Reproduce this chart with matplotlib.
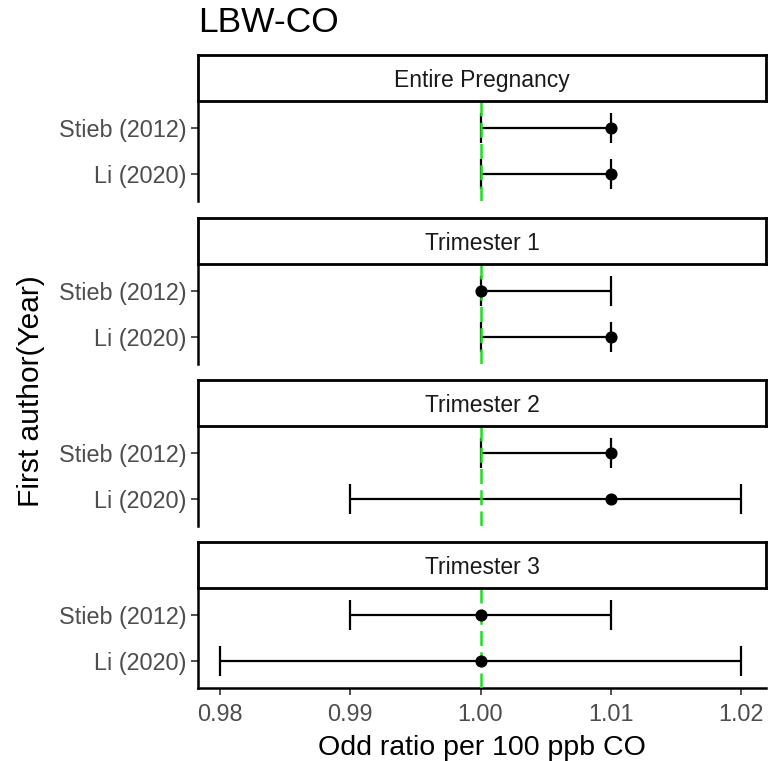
import numpy as np
import matplotlib.pyplot as plt

plt.rcParams['font.family'] = ['Liberation Sans', 'DejaVu Sans']

periods = ['Entire Pregnancy', 'Trimester 1', 'Trimester 2', 'Trimester 3']
studies = ['Stieb (2012)', 'Li (2020)']
# odds ratio, lower CI, upper CI per period, rows follow `studies`
or_est = [[1.01, 1.01], [1.00, 1.01], [1.01, 1.01], [1.00, 1.00]]
ci_low = [[1.00, 1.00], [1.00, 1.00], [1.00, 0.99], [0.99, 0.98]]
ci_high = [[1.01, 1.01], [1.01, 1.01], [1.01, 1.02], [1.01, 1.02]]
xticks = [0.98, 0.99, 1.00, 1.01, 1.02]

W, H = 770, 761
fig = plt.figure(figsize=(W / 100, H / 100), dpi=100)

left, right = 198, 766
strip_tops = [55, 218, 380, 542]
strip_h = 46
panel_h = 100
grey = '#4D4D4D'

for i, period in enumerate(periods):
    st = strip_tops[i]
    ptop = st + strip_h
    ax = fig.add_axes([left / W, 1 - (ptop + panel_h) / H, (right - left) / W, panel_h / H])
    ax.patch.set_alpha(0)
    ypos = np.array([2, 1])
    est = np.array(or_est[i])
    lo = np.array(ci_low[i])
    hi = np.array(ci_high[i])
    ax.errorbar(est, ypos, xerr=[est - lo, hi - est], fmt='none', ecolor='black',
                elinewidth=1.6, capsize=11, capthick=1.6, zorder=2)
    ax.axvline(1.0, color='#22DD22', linestyle=(0, (6, 2.5)), linewidth=1.8, zorder=3)
    ax.scatter(est, ypos, s=60, color='black', zorder=4)

    ax.set_xlim(0.97831, 1.02192)
    ax.set_ylim(0.4, 2.6)
    ax.set_yticks(ypos)
    ax.set_yticklabels(studies, fontsize=16.8, color=grey)
    ax.tick_params(axis='y', length=5, width=1.2, color='#333333', pad=3)
    for s in ['top', 'right']:
        ax.spines[s].set_visible(False)
    ax.spines['left'].set_linewidth(1.8)
    if i < 3:
        ax.spines['bottom'].set_visible(False)
        ax.set_xticks([])
    else:
        ax.spines['bottom'].set_linewidth(1.8)
        ax.set_xticks(xticks)
        ax.set_xticklabels(['%.2f' % v for v in xticks], fontsize=16.8, color=grey)
        ax.tick_params(axis='x', length=5, width=1.2, color='#333333', pad=6)
        ax.set_xlabel('Odd ratio per 100 ppb CO', fontsize=20.5, labelpad=6)

    sax = fig.add_axes([left / W, 1 - (st + strip_h) / H, (right - left) / W, strip_h / H])
    sax.set_xticks([])
    sax.set_yticks([])
    for sp in sax.spines.values():
        sp.set_linewidth(2)
        sp.set_color('black')
    sax.text(0.5, 0.45, period, ha='center', va='center', fontsize=16.5, color='#1A1A1A',
             transform=sax.transAxes)

fig.text(198 / W, 1 - 23 / H, 'LBW-CO', fontsize=25.5, va='center', ha='left')
fig.text(31 / W, 1 - 391 / H, 'First author(Year)', fontsize=21.5, rotation=90,
         va='center', ha='center')

fig.savefig('out.png', dpi=100, facecolor='white')
